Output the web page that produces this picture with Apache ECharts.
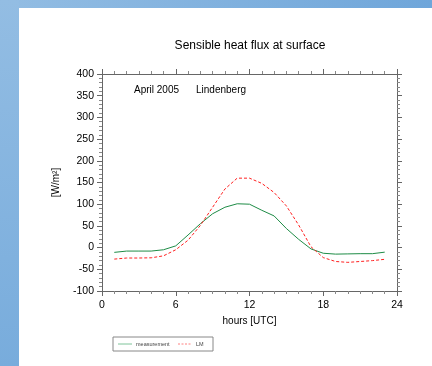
<!DOCTYPE html>
<html><head><meta charset="utf-8">
<script src="https://cdn.jsdelivr.net/npm/echarts@6/dist/echarts.min.js"></script>
<style>html,body{margin:0;padding:0;background:#fff}#c{width:432px;height:366px}</style>
</head><body><div id="c"></div>
<script>
const hours = [1,2,3,4,5,6,7,8,9,10,11,12,13,14,15,16,17,18,19,20,21,22,23];
const measurement = [-11,-8,-8,-8,-5,4,29,55,78,93,101,100,86,73,44,19,-3,-13,-15,-14.5,-14,-14,-10.5];
const lm = [-26.5,-24,-24,-23.5,-19,-5,17,51,93,135,160,160,148,127,96,52,2,-23,-32,-34,-32,-30,-27];
const xTicks = {min:0,max:24,interval:6};
const yTicks = {min:-100,max:400,interval:50};
const seriesNames = ['measurement','LM'];

const chart = echarts.init(document.getElementById('c'), null, {renderer:'canvas'});
const font = 'Liberation Sans, Arial, Helvetica, sans-serif';
function axLine(){ return {show:true, onZero:false, lineStyle:{color:'#666', width:1}}; }
function baseX(){ return {type:'value', min:xTicks.min, max:xTicks.max, interval:xTicks.interval,
  axisLine: axLine(), splitLine:{show:false},
  axisTick:{show:true, length:5, lineStyle:{color:'#666'}},
  minorTick:{show:true, splitNumber:6, length:3, lineStyle:{color:'#888'}}}; }
function baseY(){ return {type:'value', min:yTicks.min, max:yTicks.max, interval:yTicks.interval,
  axisLine: axLine(), splitLine:{show:false},
  axisTick:{show:true, length:5, lineStyle:{color:'#666'}},
  minorTick:{show:true, splitNumber:5, length:3, lineStyle:{color:'#888'}}}; }
chart.setOption({
  animation:false,
  backgroundColor:'#fff',
  grid:{left:102, top:74, width:295, height:217},
  graphic:[
    {type:'rect', z:-10, shape:{x:0,y:0,width:432,height:8}, style:{fill:new echarts.graphic.LinearGradient(0,0,1,0,[{offset:0,color:'#93bde3'},{offset:1,color:'#6fa6da'}])}},
    {type:'rect', z:-10, shape:{x:0,y:0,width:19,height:366}, style:{fill:new echarts.graphic.LinearGradient(0,0,0,1,[{offset:0,color:'#93bde3'},{offset:1,color:'#78acdc'}])}},
    {type:'text', x:250, y:46, style:{text:'Sensible heat flux at surface', fill:'#000', font:'12px '+font, align:'center', verticalAlign:'middle'}},
    {type:'text', x:134, y:90, style:{text:'April 2005', fill:'#000', font:'10px '+font, verticalAlign:'middle'}},
    {type:'text', x:196, y:90, style:{text:'Lindenberg', fill:'#000', font:'10px '+font, verticalAlign:'middle'}},
    {type:'rect', shape:{x:113,y:337,width:100,height:14}, style:{fill:'none', stroke:'#888', lineWidth:1}},
    {type:'line', shape:{x1:118,y1:344,x2:132,y2:344}, style:{stroke:'#7fc49a', lineWidth:1}},
    {type:'text', x:136, y:344, style:{text:seriesNames[0], fill:'#444', font:'5.5px '+font, verticalAlign:'middle'}},
    {type:'line', shape:{x1:178,y1:344,x2:192,y2:344}, style:{stroke:'#ff8080', lineWidth:1, lineDash:[2,1.5]}},
    {type:'text', x:196, y:344, style:{text:seriesNames[1], fill:'#444', font:'5.5px '+font, verticalAlign:'middle'}}
  ],
  xAxis:[
    Object.assign(baseX(), {position:'bottom', name:'hours [UTC]', nameLocation:'middle', nameGap:24,
      nameTextStyle:{fontSize:10, color:'#000', fontFamily:font},
      axisLabel:{show:true, color:'#000', fontSize:10.5, fontFamily:font, margin:9}}),
    Object.assign(baseX(), {position:'top', axisLabel:{show:false}})
  ],
  yAxis:[
    Object.assign(baseY(), {position:'left', name:'[W/m²]', nameLocation:'middle', nameGap:41, nameRotate:90,
      nameTextStyle:{fontSize:10, color:'#000', fontFamily:font},
      axisLabel:{show:true, color:'#000', fontSize:10.5, fontFamily:font, margin:8}}),
    Object.assign(baseY(), {position:'right', axisLabel:{show:false}})
  ],
  series:[
    {name:seriesNames[0], type:'line', symbol:'none', data:hours.map((h,i)=>[h,measurement[i]]),
      lineStyle:{color:'#1e8c46', width:1}, itemStyle:{color:'#1e8c46'}},
    {name:seriesNames[1], type:'line', symbol:'none', data:hours.map((h,i)=>[h,lm[i]]),
      lineStyle:{color:'#ff2020', width:1, type:[3,2]}, itemStyle:{color:'#ff2020'}}
  ]
});
</script></body></html>
